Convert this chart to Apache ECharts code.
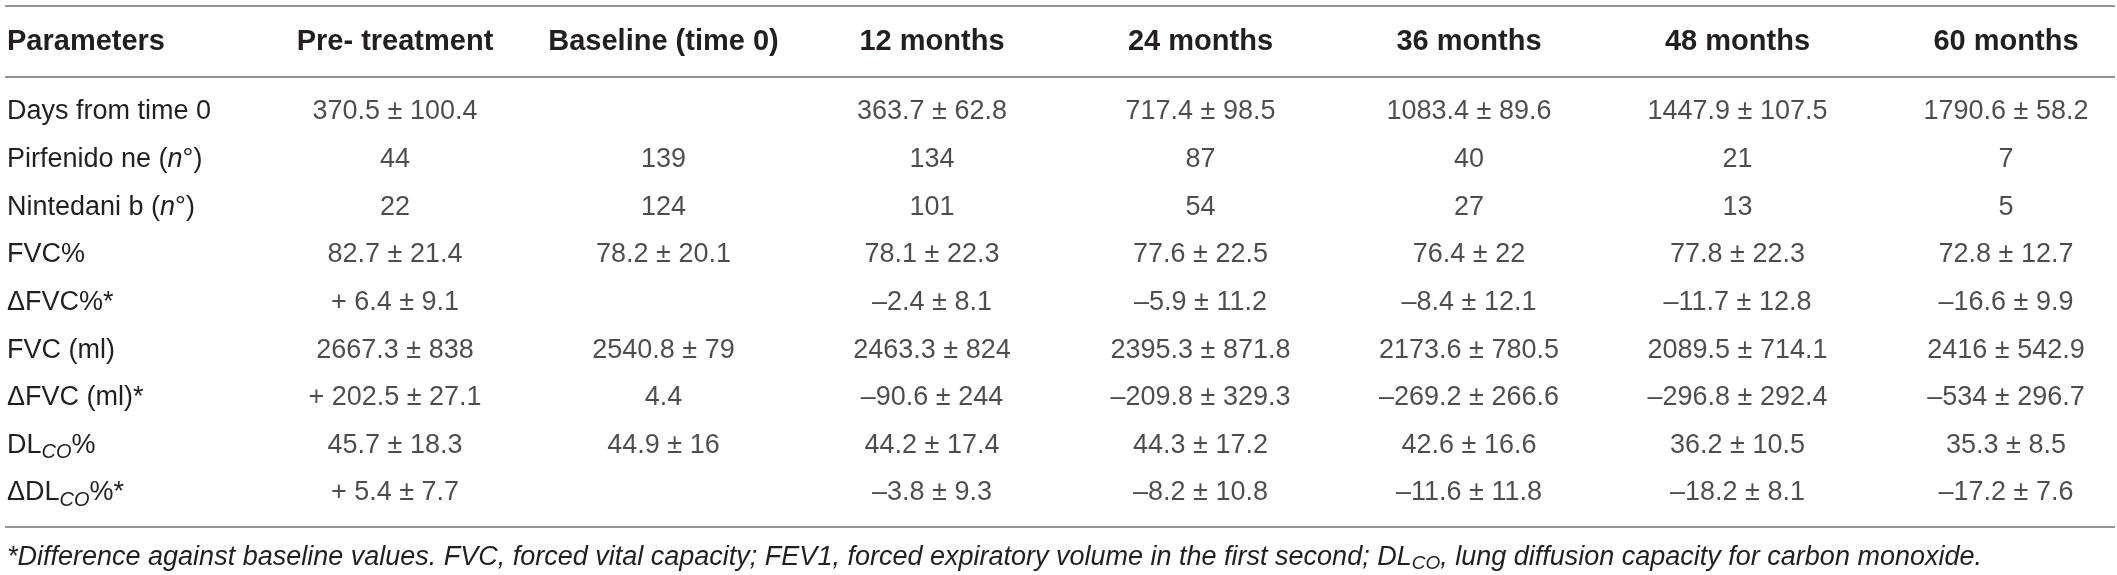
<!DOCTYPE html>
<html>
<head>
<meta charset="utf-8">
<script src="https://cdn.jsdelivr.net/npm/echarts@6/dist/echarts.min.js"></script>
<style>
html, body { margin: 0; padding: 0; background: #fff; }
#main { width: 2117px; height: 575px; }
</style>
</head>
<body>
<div id="main"></div>
<script>
// table content
var columns = ['Pre- treatment', 'Baseline (time 0)', '12 months', '24 months', '36 months', '48 months', '60 months'];
var parameters = ['Days from time 0', 'Pirfenido ne (n°)', 'Nintedani b (n°)', 'FVC%', 'ΔFVC%*', 'FVC (ml)', 'ΔFVC (ml)*', 'DLCO%', 'ΔDLCO%*'];

var daysFromTime0 = ['370.5 ± 100.4', '', '363.7 ± 62.8', '717.4 ± 98.5', '1083.4 ± 89.6', '1447.9 ± 107.5', '1790.6 ± 58.2'];
var pirfenidone = ['44', '139', '134', '87', '40', '21', '7'];
var nintedanib = ['22', '124', '101', '54', '27', '13', '5'];
var fvcPct = ['82.7 ± 21.4', '78.2 ± 20.1', '78.1 ± 22.3', '77.6 ± 22.5', '76.4 ± 22', '77.8 ± 22.3', '72.8 ± 12.7'];
var deltaFvcPct = ['+ 6.4 ± 9.1', '', '–2.4 ± 8.1', '–5.9 ± 11.2', '–8.4 ± 12.1', '–11.7 ± 12.8', '–16.6 ± 9.9'];
var fvcMl = ['2667.3 ± 838', '2540.8 ± 79', '2463.3 ± 824', '2395.3 ± 871.8', '2173.6 ± 780.5', '2089.5 ± 714.1', '2416 ± 542.9'];
var deltaFvcMl = ['+ 202.5 ± 27.1', '4.4', '–90.6 ± 244', '–209.8 ± 329.3', '–269.2 ± 266.6', '–296.8 ± 292.4', '–534 ± 296.7'];
var dlcoPct = ['45.7 ± 18.3', '44.9 ± 16', '44.2 ± 17.4', '44.3 ± 17.2', '42.6 ± 16.6', '36.2 ± 10.5', '35.3 ± 8.5'];
var deltaDlcoPct = ['+ 5.4 ± 7.7', '', '–3.8 ± 9.3', '–8.2 ± 10.8', '–11.6 ± 11.8', '–18.2 ± 8.1', '–17.2 ± 7.6'];

var footnote = '*Difference against baseline values. FVC, forced vital capacity; FEV1, forced expiratory volume in the first second; DLCO, lung diffusion capacity for carbon monoxide.';

var rows = [daysFromTime0, pirfenidone, nintedanib, fvcPct, deltaFvcPct, fvcMl, deltaFvcMl, dlcoPct, deltaDlcoPct];

var cells = [];
for (var r = 0; r < rows.length; r++) {
    for (var c = 0; c < rows[r].length; c++) {
        if (rows[r][c] !== '') {
            cells.push([c, r, rows[r][c]]);
        }
    }
}

var FONT = '"Liberation Sans", Arial, sans-serif';
var INK = '#231f20';
var RULE = '#939393';

// n in italic, CO as subscript
function richParam(s) {
    return s.replace('(n°)', '({it|n}°)').replace('DLCO', 'DL{sub|CO}');
}

var chart = echarts.init(document.getElementById('main'));

var option = {
    backgroundColor: '#fff',
    animation: false,
    grid: {
        left: 395,
        right: 111,
        top: 112,
        bottom: 82
    },
    xAxis: {
        type: 'category',
        position: 'top',
        boundaryGap: false,
        data: columns,
        axisLine: {show: false},
        axisTick: {show: false},
        splitLine: {show: false},
        axisLabel: {
            interval: 0,
            margin: 70,
            verticalAlign: 'middle',
            color: INK,
            fontFamily: FONT,
            fontWeight: 'bold',
            fontSize: 29
        }
    },
    yAxis: {
        type: 'category',
        inverse: true,
        boundaryGap: false,
        data: parameters,
        axisLine: {show: false},
        axisTick: {show: false},
        splitLine: {show: false},
        axisLabel: {
            interval: 0,
            align: 'left',
            margin: 388,
            color: INK,
            fontFamily: FONT,
            fontSize: 27,
            lineHeight: 34,
            formatter: richParam,
            rich: {
                it: {fontStyle: 'italic', fontFamily: FONT, fontSize: 27, color: INK, lineHeight: 34},
                sub: {fontStyle: 'italic', fontFamily: FONT, fontSize: 20, color: INK, lineHeight: 18, verticalAlign: 'bottom'}
            }
        }
    },
    series: [
        {
            type: 'scatter',
            symbolSize: 1,
            itemStyle: {color: 'transparent'},
            silent: true,
            label: {
                show: true,
                position: 'inside',
                color: INK,
                fontFamily: FONT,
                fontSize: 27,
                formatter: function (p) {
                    return p.data[2];
                }
            },
            data: cells
        }
    ],
    graphic: [
        {type: 'line', shape: {x1: 5, y1: 6, x2: 2115, y2: 6}, style: {stroke: RULE, lineWidth: 2}},
        {type: 'line', shape: {x1: 5, y1: 77, x2: 2115, y2: 77}, style: {stroke: RULE, lineWidth: 2}},
        {type: 'line', shape: {x1: 5, y1: 527, x2: 2115, y2: 527}, style: {stroke: RULE, lineWidth: 2}},
        {
            type: 'text', x: 7, y: 42,
            style: {text: 'Parameters', fill: INK, fontFamily: FONT, fontWeight: 'bold', fontSize: 29, verticalAlign: 'middle', align: 'left'}
        },
        {
            type: 'text', x: 7, y: 557,
            style: {
                text: footnote.replace('DLCO', 'DL{sub|CO}'),
                fill: INK, fontFamily: FONT, fontStyle: 'italic', fontSize: 27,
                lineHeight: 32, verticalAlign: 'middle', align: 'left',
                rich: {
                    sub: {fontFamily: FONT, fontStyle: 'italic', fontSize: 19, fill: INK, lineHeight: 18, verticalAlign: 'bottom'}
                }
            }
        }
    ]
};

chart.setOption(option);
</script>
</body>
</html>
